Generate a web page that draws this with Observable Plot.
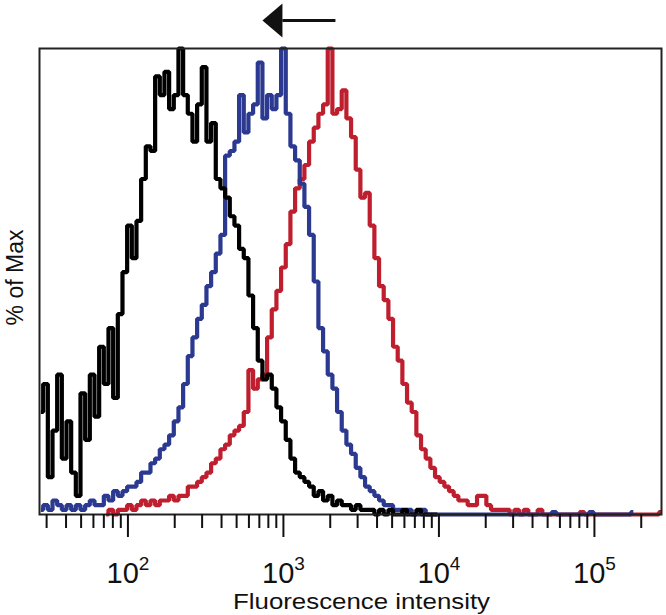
<!DOCTYPE html>
<html>
<head>
<meta charset="utf-8">
<script src="https://cdn.jsdelivr.net/npm/d3@7"></script>
<script src="https://cdn.jsdelivr.net/npm/@observablehq/plot@0.6"></script>
<style>
  html, body { margin: 0; padding: 0; background: #fff; }
  #chart svg { display: block; }
</style>
</head>
<body>
<div id="chart"></div>
<script>
// ---- histogram grid (log10 of bin centre for bin 0, and bin width in decades)
const binStartLog = 1.44;
const binWidthLog = 0.03;

// ---- series values (% of Max), one value per bin
const blackValues = [
  22,28,8,18,30,12,20,9,4,26,
  16,30,21,36,28,40,25,43,52,62,
  55,63,72,79,78,94,90,95,87,90,
  100,90,86,80,88,96,80,84,72,70,
  68,64,62,57,55,47,40,33,29,30,
  27,23,20,16,12,9,8,7,6,4,
  5,3,4,2,3,2,2,1,2,1,
  1,1,0,1,0,1,0,0,1,0,
  0,1,0,0,0,0
];
const blueValues = [
  1,2,1,3,2,1,2,1,2,1,
  2,3,2,2,4,3,5,4,5,6,
  6,7,9,9,11,12,14,15,17,20,
  23,28,34,38,42,45,49,52,56,60,
  77,78,80,90,82,86,88,97,85,90,
  87,90,100,86,79,76,71,66,60,50,
  40,35,30,27,22,18,15,13,10,8,
  6,5,4,3,2,2,1,1,0,1,
  0,0,1,0,0,0,0,0,0,0,
  0,0,0,0,0,0,0,0,0,0,
  0,0,0,0,0,0,0,0,0,0,
  0.5,0,0,0,0,0,0,0,0.5,0,
  0,0,0,0,0,0,0,0.5
];
const redValues = [
  null,null,null,null,null,null,null,null,null,null,
  null,null,null,null,0,1,0,1,1,2,
  1,2,3,2,3,2,3,3,4,3,
  4,4,6,6,7,8,9,11,12,14,
  15,17,18,19,22,31,27,29,30,38,
  44,48,53,58,65,70,72,75,80,83,
  86,88,100,86,87,91,85,81,74,68,
  69,62,55,49,46,42,36,33,28,24,
  22,17,14,12,10,8,7,6,5,4,
  3,3,2,2,4,4,2,1,1,1,
  1,0,1,0,1,0,0,1,0,0,
  0,0,0,0,0,0,0.5,0,0,0,
  0,0,0,0,0,0,0,0,0,0,
  0,0,0,0.5
];

const seriesNames = ["red", "blue", "black"];
const seriesColors = ["#be1e2d", "#2b3990", "#000000"];

// ---- axis ticks & labels
const majorTicks = [1e2, 1e3, 1e4, 1e5];
const majorExponents = ["2", "3", "4", "5"];
const minorTicks = [30,40,50,60,70,80,90,
  200,300,400,500,600,700,800,900,
  2000,3000,4000,5000,6000,7000,8000,9000,
  20000,30000,40000,50000,60000,70000,80000,90000,
  200000];
const xLabel = "Fluorescence intensity";
const yLabel = "% of Max";

// ---- arrow annotation (data units)
const arrowTip = 733;
const arrowBase = 985;
const arrowTail = 2160;
const arrowLevel = 106;

// ---- build table
const valuesBySeries = {red: redValues, blue: blueValues, black: blackValues};
const rows = [];
for (const s of seriesNames) {
  valuesBySeries[s].forEach((v, i) => {
    rows.push({series: s, x: Math.pow(10, binStartLog + binWidthLog * i), y: v});
  });
}

const arrowHead = {
  draw(context) {
    context.moveTo(0, 0);
    context.lineTo(20, -17);
    context.lineTo(20, 17);
    context.closePath();
  }
};

const lineMarks = seriesNames.map((s, k) =>
  Plot.line(rows.filter(d => d.series === s), {
    x: "x", y: "y", curve: "step",
    stroke: seriesColors[k], strokeWidth: 4.2,
    strokeLinejoin: "miter", strokeLinecap: "butt"
  })
);

const chart = Plot.plot({
  width: 666,
  height: 615,
  marginTop: 48,
  marginBottom: 101,
  marginLeft: 39,
  marginRight: 5,
  style: {fontFamily: "'Liberation Sans', Arial, Helvetica, sans-serif", background: "#fff", color: "#111"},
  x: {type: "log", domain: [27, 270000]},
  y: {domain: [0, 100], axis: null},
  marks: [
    ...lineMarks,
    Plot.frame({stroke: "#222", strokeWidth: 2}),
    Plot.axisX({ticks: minorTicks, tickSize: 14, tickFormat: () => "", strokeWidth: 2, label: null}),
    Plot.axisX({ticks: majorTicks, tickSize: 23, tickFormat: () => "", strokeWidth: 2, label: null}),
    Plot.text(majorTicks, {
      x: d => d, text: (d, i) => "10" + majorExponents[i],
      frameAnchor: "bottom", lineAnchor: "bottom", textAnchor: "middle",
      dy: 68, fontSize: 29, fill: "#111"
    }),
    Plot.text([xLabel], {
      text: d => d, frameAnchor: "bottom", lineAnchor: "bottom", textAnchor: "middle",
      dx: 11, dy: 94, fontSize: 22, fill: "#111"
    }),
    Plot.text([yLabel], {
      text: d => d, frameAnchor: "left", lineAnchor: "bottom", textAnchor: "middle",
      rotate: -90, dx: -17, dy: -4, fontSize: 23, fill: "#111"
    }),
    Plot.link([0], {x1: () => arrowTail, x2: () => arrowBase, y1: () => arrowLevel, y2: () => arrowLevel,
      stroke: "#111", strokeWidth: 3}),
    Plot.dot([0], {x: () => arrowTip, y: () => arrowLevel, symbol: arrowHead, fill: "#111", stroke: "none"})
  ]
});

// superscript exponents on the decade labels; widen the axis title like the reference
const wanted = new Map(majorExponents.map(e => ["10" + e, e]));
chart.querySelectorAll("text").forEach(t => {
  if (t.textContent === xLabel) {
    t.setAttribute("textLength", "257");
    t.setAttribute("lengthAdjust", "spacingAndGlyphs");
    return;
  }
  const e = wanted.get(t.textContent);
  if (e === undefined) return;
  t.textContent = "10";
  const ts = document.createElementNS("http://www.w3.org/2000/svg", "tspan");
  ts.setAttribute("dy", "-13");
  ts.setAttribute("font-size", "19");
  ts.textContent = e;
  t.appendChild(ts);
});

document.getElementById("chart").appendChild(chart);
</script>
</body>
</html>
